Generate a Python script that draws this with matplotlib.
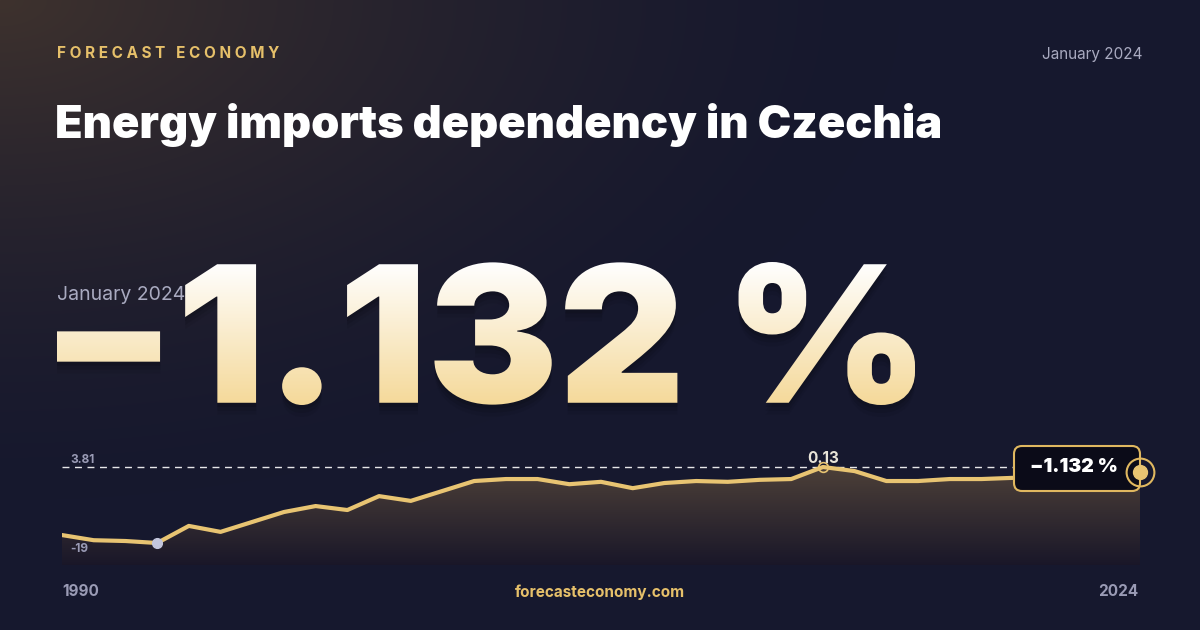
import numpy as np
import matplotlib
matplotlib.use("Agg")
import matplotlib.pyplot as plt
from matplotlib.textpath import TextPath
from matplotlib.patches import PathPatch, FancyBboxPatch, Polygon
from matplotlib.font_manager import FontProperties
from matplotlib.transforms import Affine2D

years = list(range(1990, 2025))
values = [-17.0, -18.3, -18.5, -19.0, -14.7, -16.2, -13.7, -11.2, -9.7, -10.7,
          -7.2, -8.4, -5.9, -3.4, -2.9, -2.9, -4.2, -3.6, -5.2, -3.9,
          -3.4, -3.6, -3.1, -2.9, 0.13, -0.9, -3.4, -3.4, -2.9, -2.9,
          -2.6, -2.0, -1.6, -1.4, -1.132]
title = "Energy imports dependency in Czechia"
big_value = "\u22121.132 %"
date_label = "January 2024"
ref_label = "3.81"
min_label = "-19"
max_label = "0.13"

W, H = 1200, 630
fig = plt.figure(figsize=(12, 6.3), dpi=100)
bg = fig.add_axes([0, 0, 1, 1])
bg.set_xlim(0, W); bg.set_ylim(H, 0); bg.axis("off")

yy, xx = np.mgrid[0:H, 0:W]
base = np.array([22, 24, 46]) / 255
warm = np.array([62, 50, 45]) / 255
d = np.sqrt((xx / 900.0) ** 2 + (yy / 500.0) ** 2)
t = np.clip(1 - d, 0, 1)[..., None] ** 1.5
img = base * (1 - t) + warm * t
bg.imshow(img, extent=[0, W, H, 0], zorder=0, aspect="auto")

inter = "Inter"
bg.text(57, 53, "   ".join(" ".join(w) for w in "FORECAST ECONOMY".split()),
        color="#E6C06A", fontsize=11, fontweight="bold", family=inter, va="center")
bg.text(1143, 54, date_label, color="#A9AAC0", fontsize=11, family=inter, va="center", ha="right")
bg.text(55, 125, title, color="white", fontsize=32.5, fontweight="black", family=inter, va="center")

fp = FontProperties(family=inter, weight="black")
tp = TextPath((0, 0), big_value, size=100, prop=fp)
ext = tp.get_extents()
x0, x1, y0, y1 = 57, 915, 262, 405
sx = (x1 - x0) / ext.width
sy = (y1 - y0) / ext.height
tr = Affine2D().translate(-ext.x0, -ext.y0).scale(sx, -sy).translate(x0, y1)
path = tr.transform_path(tp)
for off, a in [(4, 0.12), (8, 0.08), (12, 0.05)]:
    bg.add_patch(PathPatch(Affine2D().translate(0, off).transform_path(path), facecolor="black",
                           edgecolor="none", alpha=a, zorder=2))
patch = PathPatch(path, facecolor="none", edgecolor="none", transform=bg.transData)
bg.add_patch(patch)
g = np.linspace(0, 1, 200)[:, None]
top_c = np.array([1.0, 1.0, 1.0]); bot_c = np.array([0.96, 0.85, 0.60])
grad = (top_c * (1 - g[..., None]) + bot_c * g[..., None]) * np.ones((200, 2, 3))
im = bg.imshow(grad, extent=[x0, x1, y1, y0], aspect="auto", zorder=3)
im.set_clip_path(patch)
bg.text(57, 295, date_label, color="#A9AAC0", fontsize=14, family=inter, va="center", zorder=4)

def fy(px):
    return 1 - px / H
px_per = 76 / 19.13
ymin = 0.13 - (565 - 467) / px_per
ymax = 0.13 + (467 - 440) / px_per
ax = fig.add_axes([62 / W, fy(565), (1140 - 62) / W, (565 - 440) / H])
ax.set_xlim(1990, 2024); ax.set_ylim(ymin, ymax); ax.axis("off")
ax.patch.set_alpha(0)
poly = Polygon(list(zip(years, values)) + [(2024, ymin), (1990, ymin)], closed=True,
               facecolor="none", edgecolor="none")
ax.add_patch(poly)
g2 = np.linspace(0, 1, 100)[:, None, None]
ca = np.array([0.30, 0.25, 0.22]); cb = np.array([0.10, 0.09, 0.16])
fillimg = (ca * (1 - g2) + cb * g2) * np.ones((100, 2, 3))
fi = ax.imshow(fillimg, extent=[1990, 2024, ymin, 0.13], aspect="auto", zorder=1)
fi.set_clip_path(poly)
ax.plot(years, values, color="#E8C472", lw=3, zorder=3, solid_capstyle="round")
ax.axhline(0.13, color="white", lw=1, ls=(0, (5, 4)), alpha=0.9, zorder=2)
imin = int(np.argmin(values)); imax = int(np.argmax(values))
ax.plot(years[imin], values[imin], "o", color="#C3C6DD", ms=7, zorder=4)
ax.plot(years[imax], values[imax], "o", mfc="none", mec="#E8C472", ms=7, mew=1.2, zorder=4)
ax.text(1990.25, 0.4, ref_label, color="#9A9BB5", fontsize=8.5, fontweight="bold", family=inter, va="bottom")
ax.text(1990.25, values[imin] - 1.6, min_label, color="#9A9BB5", fontsize=8.5, fontweight="bold",
        family=inter, va="center", zorder=5)
ax.text(years[imax], 0.5, max_label, color="#E8E4D8", fontsize=11, fontweight="bold", family=inter, va="bottom", ha="center")

top = fig.add_axes([0, 0, 1, 1])
top.set_xlim(0, W); top.set_ylim(H, 0); top.axis("off"); top.patch.set_alpha(0)
top.add_patch(FancyBboxPatch((1014, 446), 126, 45, boxstyle="round,pad=0,rounding_size=8",
                             facecolor="#0B0B18", edgecolor="#E0B860", lw=1.5, zorder=5))
top.text(1074, 467, big_value, color="white", fontsize=14, fontweight="black", family=inter,
         ha="center", va="center", zorder=6)
ax.set_zorder(1); top.set_zorder(2)
endax = fig.add_axes(ax.get_position()); endax.set_zorder(3)
endax.set_xlim(ax.get_xlim()); endax.set_ylim(ax.get_ylim()); endax.axis("off"); endax.patch.set_alpha(0)
endax.plot(years[-1], values[-1], "o", mfc="none", mec="#E0B860", ms=20, mew=1.5, clip_on=False)
endax.plot(years[-1], values[-1], "o", color="#E8C472", ms=10, clip_on=False)

bg.text(62, 592, str(years[0]), color="#9A9BB5", fontsize=11, fontweight="bold", family=inter, va="center")
bg.text(600, 592, "forecasteconomy.com", color="#E6C06A", fontsize=11, fontweight="bold", family=inter, va="center", ha="center")
bg.text(1138, 592, str(years[-1]), color="#9A9BB5", fontsize=11, fontweight="bold", family=inter, va="center", ha="right")

fig.savefig("out.png", dpi=100)
